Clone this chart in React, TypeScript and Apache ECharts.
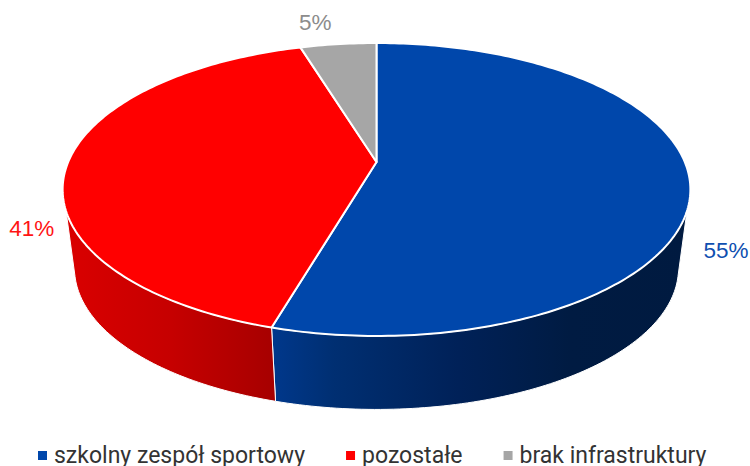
import React, { useEffect, useRef } from "react";
import * as echarts from "echarts";

const categories = ["szkolny zespół sportowy", "pozostałe", "brak infrastruktury"];
const shares = [54.5, 40.8, 4.7];

const topColors = ["#0047AB", "#FF0000", "#A6A6A6"];
const labelColors = ["#0F4FB0", "#FF1414", "#8C8C8C"];
const labelOffsets = [[36, 68], [-36, 66], [-23, -22]];
const sideStops = [
  [[0, "#00388C"], [0.15, "#002F72"], [0.45, "#002158"], [0.72, "#001B42"], [1, "#001A40"]],
  [[0, "#DA0000"], [0.5, "#C60000"], [1, "#A60000"]],
  [[0, "#808080"], [1, "#606060"]],
];

const total = shares.reduce((a, b) => a + b, 0);
const PERSP = 0.1877;
const CX = 376.5;
const topRim = (deg: number) => project(deg, 162, 308.3, 141.3);
const bottomRim = (deg: number) => project(deg, 242, 296.6, 136);

function project(deg: number, y0: number, a: number, c: number) {
  const t = (deg * Math.PI) / 180;
  const u = Math.sin(t);
  const v = -Math.cos(t);
  const w = 1 - PERSP * v;
  return [CX + (a * u) / w, y0 + (c * v) / w];
}

function arc(fn: (d: number) => number[], from: number, to: number) {
  const pts: number[][] = [];
  const n = Math.max(2, Math.ceil(Math.abs(to - from)));
  for (let i = 0; i <= n; i++) pts.push(fn(from + ((to - from) * i) / n));
  return pts;
}

function renderSlice(index: number) {
  return (_params: any, api: any) => {
    const value = api.value(0);
    const before = shares.slice(0, index).reduce((a, b) => a + b, 0);
    const a = (before / total) * 360;
    const b = a + (value / total) * 360;
    const children: any[] = [];
    const topA = Math.max(a, 109);
    const topB = Math.min(b, 251);
    if (topA < topB) {
      const botA = Math.max(a, 104);
      const botB = Math.min(b, 256);
      const points = arc(topRim, topA, topB).concat(arc(bottomRim, botB, botA));
      children.push({
        type: "polygon",
        z2: 1,
        shape: { points },
        style: {
          fill: new echarts.graphic.LinearGradient(
            0, 0, 1, 0,
            sideStops[index].map(([offset, color]) => ({ offset: offset as number, color: color as string }))
          ),
          stroke: "#FFFFFF",
          lineWidth: 1,
          lineJoin: "round",
        },
      });
    }
    children.push({
      type: "polygon",
      z2: 5,
      shape: { points: [[CX, 162], ...arc(topRim, a, b)] },
      style: { fill: topColors[index], stroke: "#FFFFFF", lineWidth: 2, lineJoin: "round" },
    });
    const mid = topRim((a + b) / 2);
    children.push({
      type: "text",
      z2: 10,
      x: mid[0] + labelOffsets[index][0],
      y: mid[1] + labelOffsets[index][1],
      style: {
        text: `${Math.round(value)}%`,
        fill: labelColors[index],
        font: '22.5px "Liberation Sans", Arial, sans-serif',
        align: "center",
        verticalAlign: "middle",
      },
    });
    return { type: "group", children };
  };
}

export default function App() {
  const ref = useRef<HTMLDivElement>(null);
  useEffect(() => {
    document.body.style.margin = "0";
    document.body.style.overflow = "hidden";
    const chart = echarts.init(ref.current!, null, { renderer: "svg" });
    chart.setOption({
      animation: false,
      backgroundColor: "#FFFFFF",
      legend: {
        left: 38,
        top: 444,
        itemWidth: 9,
        itemHeight: 9,
        itemGap: 41,
        icon: "rect",
        padding: 0,
        data: categories,
        textStyle: { fontFamily: "Roboto", fontSize: 23, color: "#333333", padding: [0, 0, 0, 2] },
      },
      series: categories.map((name, i) => ({
        type: "custom",
        name,
        coordinateSystem: "none",
        silent: true,
        itemStyle: { color: topColors[i] },
        data: [[shares[i]]],
        encode: { value: 0 },
        renderItem: renderSlice(i),
      })),
    });
    return () => chart.dispose();
  }, []);
  return <div ref={ref} style={{ width: 750, height: 466 }} />;
}
